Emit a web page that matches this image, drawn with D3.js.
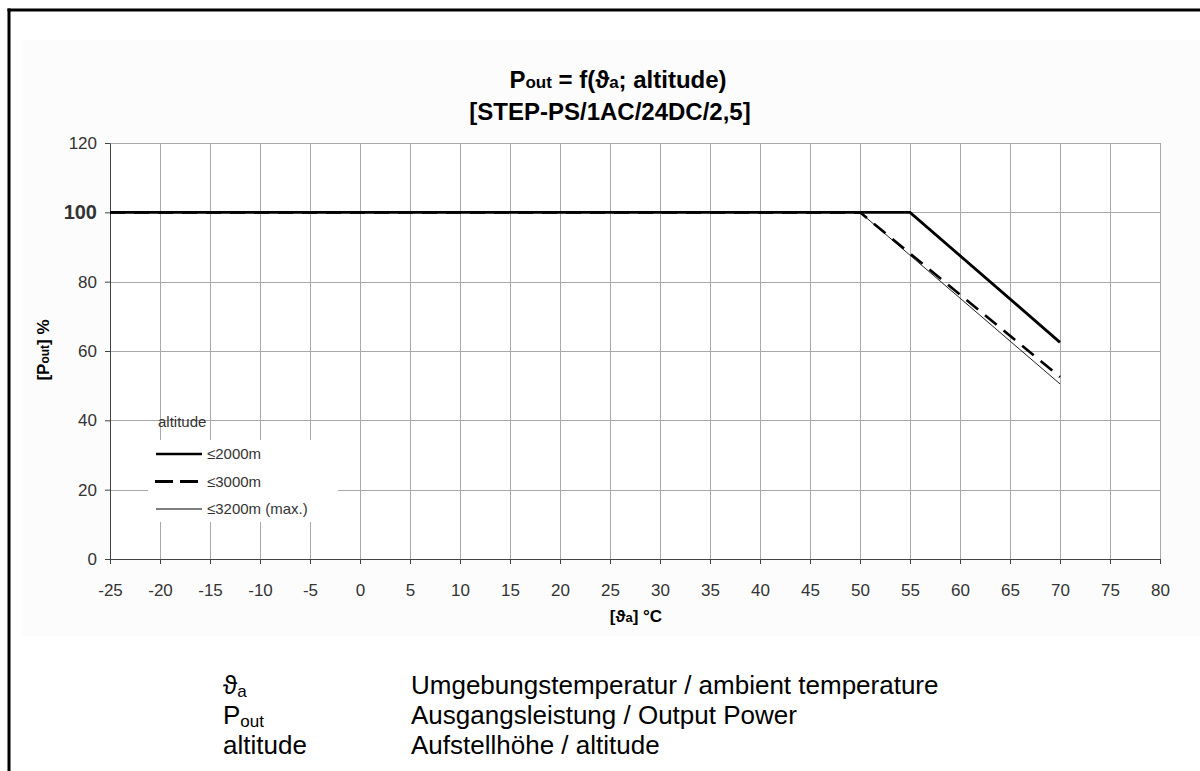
<!DOCTYPE html>
<html>
<head>
<meta charset="utf-8">
<script src="https://cdn.jsdelivr.net/npm/d3@7"></script>
<style>
body{margin:0;background:#fff;}
svg text{font-family:"Liberation Sans",Arial,sans-serif;}
.grid line{stroke:#a9a9a9;stroke-width:1;}
.axis path,.axis line{stroke:#444;stroke-width:1;}
.axis text{fill:#333;font-size:17px;}
.ttl{font-weight:bold;fill:#000;}
</style>
</head>
<body>
<div id="chart"></div>
<script>
// tick values
const xTickValues = [-25,-20,-15,-10,-5,0,5,10,15,20,25,30,35,40,45,50,55,60,65,70,75,80];
const yTickValues = [0,20,40,60,80,100,120];

// derating curves, ambient temp (°C) vs output power (%)
const temp2000 = [-25, 55, 70];
const pout2000 = [100, 100, 62.5];
const temp3000 = [-25, 50, 70];
const pout3000 = [100, 100, 52.5];
const temp3200 = [-25, 50, 70];
const pout3200 = [100, 100, 50.5];

const legendLabels = ["≤2000m","≤3000m","≤3200m (max.)"];

const notesSymbol = [["ϑ","a"],["P","out"],["altitude",""]];
const notesText = ["Umgebungstemperatur / ambient temperature","Ausgangsleistung / Output Power","Aufstellhöhe / altitude"];

let total_width = 1200, total_height = 771;
let plot = {left:110, right:1160, top:143, bottom:559};

let svg = d3.select("#chart").append("svg")
	.attr("width", total_width)
	.attr("height", total_height);

// chart area bg + frame
svg.append("rect").attr("x",22).attr("y",40).attr("width",1178).attr("height",596).attr("fill","#fcfcfc");
svg.append("line").attr("x1",9).attr("y1",8.5).attr("x2",9).attr("y2",771).attr("stroke","#000").attr("stroke-width",3);
svg.append("line").attr("x1",7.5).attr("y1",10).attr("x2",1200).attr("y2",10).attr("stroke","#000").attr("stroke-width",3);
svg.append("rect").attr("x",plot.left).attr("y",plot.top).attr("width",plot.right-plot.left).attr("height",plot.bottom-plot.top).attr("fill","#fff");

var x = d3.scaleLinear().domain([-25,80]).range([plot.left, plot.right]);
var y = d3.scaleLinear().domain([0,120]).range([plot.bottom, plot.top]);

// grid
svg.append("g").attr("class","grid").selectAll("line").data(yTickValues.filter(d=>d>0)).enter().append("line")
	.attr("x1",plot.left).attr("x2",plot.right)
	.attr("y1",d=>Math.round(y(d))+0.5).attr("y2",d=>Math.round(y(d))+0.5);
svg.append("g").attr("class","grid").selectAll("line").data(xTickValues.filter(d=>d>-25)).enter().append("line")
	.attr("y1",plot.top).attr("y2",plot.bottom)
	.attr("x1",d=>Math.round(x(d))+0.5).attr("x2",d=>Math.round(x(d))+0.5);

// axes (plain hyphen for negatives, like the original)
svg.append("g")
	.attr("class","axis")
	.attr("transform","translate(0,"+plot.bottom+")")
	.call(d3.axisBottom(x).tickValues(xTickValues).tickSize(5).tickPadding(20).tickSizeOuter(0).tickFormat(d=>String(d)));
let yAxis = svg.append("g")
	.attr("class","axis")
	.attr("transform","translate("+plot.left+",0)")
	.call(d3.axisLeft(y).tickValues(yTickValues).tickSize(5).tickPadding(8).tickSizeOuter(0).tickFormat(d=>String(d)));
yAxis.selectAll(".tick text").filter(d=>d===100)
	.attr("font-weight","bold").attr("fill","#000").style("font-size","20px");

// legend box (white, no border)
svg.append("rect").attr("x",148).attr("y",440).attr("width",190).attr("height",82).attr("fill","#fff");

// curves
let curve = (xs,ys)=>d3.line().x((d,i)=>x(xs[i])).y(d=>y(d))(ys);
svg.append("path").attr("d",curve(temp3200,pout3200)).attr("fill","none").attr("stroke","#222").attr("stroke-width",1);
svg.append("path").attr("d",curve(temp3000,pout3000)).attr("fill","none").attr("stroke","#000").attr("stroke-width",2.6).attr("stroke-dasharray","15,9");
svg.append("path").attr("d",curve(temp2000,pout2000)).attr("fill","none").attr("stroke","#000").attr("stroke-width",2.8);

// legend
svg.append("text").attr("x",158).attr("y",427).attr("fill","#333").style("font-size","15px").text("altitude");
let legStyles = [{w:2.5,dash:null},{w:3,dash:"18,7"},{w:1,dash:null}];
legendLabels.forEach((lab,i)=>{
	let ly = 454 + i*27.5;
	let ln = svg.append("line").attr("x1",156).attr("x2",202).attr("y1",ly).attr("y2",ly)
		.attr("stroke","#000").attr("stroke-width",legStyles[i].w);
	if(legStyles[i].dash) ln.attr("stroke-dasharray",legStyles[i].dash).attr("x1",155);
	svg.append("text").attr("x",207).attr("y",ly+5).attr("fill","#333").style("font-size","15px").text(lab);
});

// title
let t1 = svg.append("text").attr("class","ttl").attr("x",618).attr("y",88).attr("text-anchor","middle").style("font-size","24px");
t1.append("tspan").text("P");
t1.append("tspan").style("font-size","17px").text("out");
t1.append("tspan").text(" = f(ϑ");
t1.append("tspan").style("font-size","17px").text("a");
t1.append("tspan").text("; altitude)");
svg.append("text").attr("class","ttl").attr("x",610).attr("y",120).attr("text-anchor","middle").style("font-size","24px").text("[STEP-PS/1AC/24DC/2,5]");

// axis titles
let yt = svg.append("text").attr("class","ttl").attr("transform","translate(49,350) rotate(-90)").attr("text-anchor","middle").style("font-size","17px");
yt.append("tspan").text("[P");
yt.append("tspan").style("font-size","12px").text("out");
yt.append("tspan").text("] %");
let xt = svg.append("text").attr("class","ttl").attr("x",636).attr("y",622).attr("text-anchor","middle").style("font-size","17px");
xt.append("tspan").text("[ϑ");
xt.append("tspan").style("font-size","13px").text("a");
xt.append("tspan").text("] °C");

// notes below chart
notesSymbol.forEach((s,i)=>{
	let by = 694 + i*30;
	let t = svg.append("text").attr("x",223).attr("y",by).style("font-size","26px").attr("fill","#000");
	t.append("tspan").text(s[0]);
	if(s[1]) t.append("tspan").attr("dy",3).style("font-size","17px").text(s[1]);
});
notesText.forEach((s,i)=>{
	svg.append("text").attr("x",411).attr("y",694 + i*30).style("font-size","26px").attr("fill","#000").text(s);
});
</script>
</body>
</html>
